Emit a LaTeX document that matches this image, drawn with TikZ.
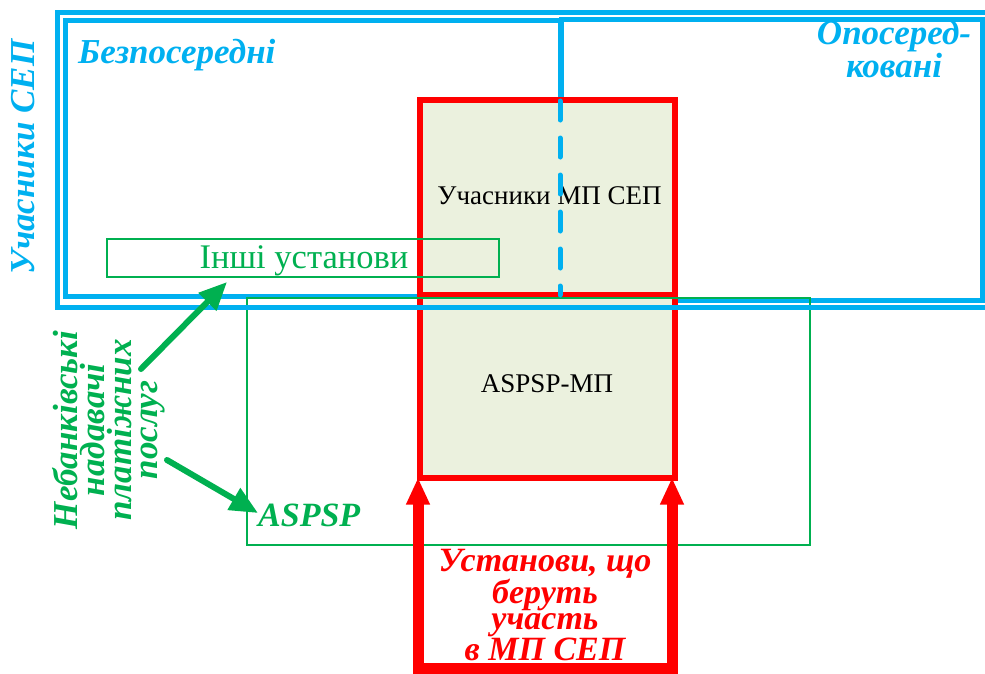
\documentclass[tikz,border=0pt]{standalone}
\usepackage{fontspec}
\setmainfont{Liberation Serif}
\usetikzlibrary{arrows.meta}
\definecolor{sepblue}{HTML}{00B0F0}
\definecolor{npgreen}{HTML}{00B050}
\definecolor{mpred}{HTML}{FF0000}
\definecolor{mpfill}{HTML}{EBF1DE}
\tikzset{
  blueframe/.style={draw=sepblue, line width=5pt},
  redbox/.style={draw=mpred, fill=mpfill, line width=6pt, anchor=north west, outer sep=0pt, inner sep=0pt},
  innerlbl/.style={text=black, font=\fontsize{27}{30}\selectfont, anchor=base, inner sep=0pt},
  greenbox/.style={draw=npgreen, line width=1.3pt, anchor=north west, outer sep=0pt, inner sep=0pt},
  bluelbl/.style={text=sepblue, font=\fontsize{35}{23}\selectfont\bfseries\itshape, inner sep=0pt},
  greenlbl/.style={text=npgreen, font=\fontsize{35}{26.7}\selectfont\bfseries\itshape, inner sep=0pt},
  redlbl/.style={text=mpred, font=\fontsize{34}{26}\selectfont\bfseries\itshape, inner sep=0pt},
  greenarrow/.style={draw=npgreen, line width=6pt, line cap=round, -{Triangle[length=28pt, width=24pt]}},
  redarrow/.style={draw=mpred, line width=11pt, {Triangle[length=27pt, width=22pt]}-{Triangle[length=27pt, width=22pt]}},
}
\begin{document}
\begin{tikzpicture}[x=1pt, y=-1pt]
\useasboundingbox (0,0) rectangle (985,673);
% inner blue frames
\node[blueframe, anchor=north west, outer sep=0pt, inner sep=0pt, minimum width=495pt, minimum height=276pt] (direct) at (65,20) {};
\node[blueframe, anchor=north west, outer sep=0pt, inner sep=0pt, minimum width=421pt, minimum height=281pt] (indirect) at (561,19) {};
% red boxes
\node[redbox, minimum width=255pt, minimum height=196pt] (mpsep) at (419.5,99.5) {};
\node[redbox, minimum width=255pt, minimum height=182.5pt] (aspspmp) at (419.5,295) {};
\node[innerlbl] (mpsepl) at (549.5,204) {Учасники МП СЕП};
\node[innerlbl] (aspspmpl) at (547,392) {ASPSP-МП};
% green boxes
\node[greenbox, minimum width=392pt, minimum height=38pt] (other) at (107,239) {};
\node[greenbox, minimum width=563pt, minimum height=247pt] (aspsp) at (247,298) {};
\node[text=npgreen, font=\fontsize{34.5}{36}\selectfont, anchor=base, inner sep=0pt] (otherl) at (304,268) {Інші установи};
\node[text=npgreen, font=\fontsize{34}{36}\selectfont\bfseries\itshape, anchor=base west, inner sep=0pt] (aspspl) at (258,526) {ASPSP};
% outer blue frame
\coordinate (otr) at (985,12);
\coordinate (obr) at (985,307);
\draw[sepblue, line width=5pt] (otr) -| (57,307) -- (obr);
% dashed divider
\coordinate (dtop) at (560,101);
\coordinate (dbot) at (560,295);
\draw[sepblue, line width=5pt, line cap=round, dash pattern=on 19pt off 18pt] (dtop) -- (dbot);
% blue labels
\node[bluelbl, rotate=90] (sepl) at (23,157) {Учасники СЕП};
\node[bluelbl, anchor=base west] (directl) at (78,63) {Безпосередні};
\node[bluelbl, align=center] (indirectl) at (894,49) {Опосеред-\\ковані};
% red arrows
\coordinate (ral) at (418,477.5);
\coordinate (rar) at (672,477.5);
\draw[redarrow] (ral) -- (418,668) -- (672,668) -- (rar);
\node[redlbl, align=center] (mpinst) at (545,605) {Установи, що\\беруть\\участь\\в МП СЕП};
% green label and arrows
\node[greenlbl, align=center, rotate=90] (nbank) at (109,430) {Небанківські\\надавачі\\платіжних\\послуг};
\coordinate (g1s) at (141,369);
\coordinate (g1e) at (227,282);
\coordinate (g2s) at (167,460);
\coordinate (g2e) at (258,513);
\draw[greenarrow] (g1s) -- (g1e);
\draw[greenarrow] (g2s) -- (g2e);
\end{tikzpicture}
\end{document}
